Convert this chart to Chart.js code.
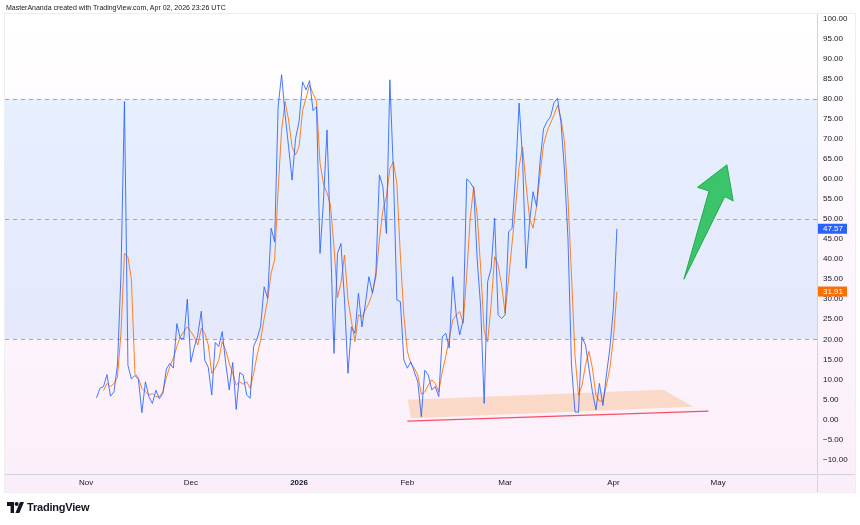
<!DOCTYPE html>
<html>
<head>
<meta charset="utf-8">
<script src="https://cdn.jsdelivr.net/npm/chart.js@4.4.1/dist/chart.umd.min.js"></script>
<style>
  html, body { margin: 0; padding: 0; background: #fff; }
  #wrap { position: relative; width: 860px; height: 525px; overflow: hidden; }
  #chart { position: absolute; left: 0; top: 0; }
  #title {
    position: absolute; left: 6px; top: 4px;
    font: 7px "Liberation Sans", Arial, sans-serif; color: #131722; white-space: nowrap;
  }
  #logo { position: absolute; left: 7px; top: 501px; display: flex; align-items: center; }
  #logo span {
    font: bold 11px "Liberation Sans", Arial, sans-serif; color: #131722; margin-left: 3px; letter-spacing: -0.2px;
  }
</style>
</head>
<body>
<div id="wrap">
  <canvas id="chart" width="860" height="525"></canvas>
  <div id="title">MasterAnanda created with TradingView.com, Apr 02, 2026 23:26 UTC</div>
  <div id="logo">
    <svg width="17" height="12" viewBox="0 0 17 12">
      <path d="M0 1 H7 V12 H3.6 V5 H0 Z" fill="#131722"/>
      <circle cx="9.6" cy="3" r="2" fill="#131722"/>
      <path d="M13 1 H17 L12.4 12 H8.4 Z" fill="#131722"/>
    </svg>
    <span>TradingView</span>
  </div>
</div>
<script>
// Days are counted from Nov 1, 2025; first bar is Nov 4, 2025
const startDay = 3;

// Stoch RSI %K (blue)
const kValues = [
    5.4, 7.8, 8.2, 11.2, 5.8, 6.9, 13.6, 36, 79.3, 13.5,
    10.1, 11, 10, 1.7, 9.4, 5.7, 4, 7.3, 5.2, 6.5,
    12.6, 14, 12.8, 23.9, 20.2, 20.2, 30, 14.3, 18, 21,
    27, 14.8, 13, 6.1, 19.2, 18.2, 21.9, 14, 7.4, 14.2,
    2.5, 11.7, 11.1, 6.1, 5.3, 18.3, 20.2, 23.3, 33.1, 30.2,
    47.7, 44.3, 78, 86, 76, 68, 59.7, 70.1, 74.3, 84.2,
    82.2, 84.5, 77, 78, 41.4, 54.7, 72.2, 45, 16.5, 41.4,
    43.9, 30, 11.5, 23.1, 21.5, 31.5, 23.1, 29, 35.6, 31.5,
    36.5, 61, 58.1, 46.4, 84.7, 62, 29.8, 29.4, 14.8, 12.8,
    14.4, 11.9, 9.4, 0.7, 12.3, 11.1, 7.4, 8.2, 5.7, 20.6,
    21.5, 17.8, 35.6, 26.1, 21.1, 24.8, 60, 59.1, 57.7, 40,
    28, 4, 34.4, 37.7, 50.2, 26.1, 25.2, 26.1, 46.8, 47.7,
    61, 78.9, 65, 37.7, 49.3, 56.8, 53.1, 64.3, 72.5, 74.3,
    75.5, 79, 80.1, 74, 62, 45, 13.6, 1.9, 1.8, 20.6,
    18.6, 12.8, 6.9, 2.4, 9, 3.5, 11.1, 17.8, 27.7, 47.57
];

// Stoch RSI %D (orange)
const dValues = [
    null, null, 7.2, 9.0, 8.2, 9.0, 10.5, 21.5, 41.4, 40.6,
    34.8, 11.5, 10.3, 7.8, 6.9, 6.1, 6.5, 5.7, 5.7, 6.9,
    10.5, 13.2, 15.3, 18.2, 20.6, 22, 23.1, 21.9, 20.6, 18.6,
    22.7, 21.5, 18.6, 11.5, 12.8, 14.8, 19.4, 17.3, 14, 11.5,
    8.6, 9.4, 8.8, 9.4, 7.8, 11.5, 16.1, 19.8, 25.2, 29.8,
    36.5, 39.8, 57.2, 72.2, 79.3, 74.7, 68, 66, 68, 77,
    80.1, 83.4, 81.3, 79.3, 64, 58.7, 56.5, 53.5, 43, 30.4,
    34, 41, 30, 24.5, 19.4, 26.1, 25.6, 27.3, 29, 31.5,
    35.6, 44.8, 52.2, 55.5, 62.5, 64.3, 58.9, 41, 26, 17,
    14, 12.8, 11.1, 6.3, 6.9, 8.6, 9.9, 9, 6.9, 11.9,
    15.7, 20.2, 24.8, 26.1, 26.9, 24, 36, 50.2, 58.1, 51,
    37.7, 22, 19.4, 28.6, 40.6, 38.5, 33.5, 26.5, 35, 44,
    53, 63, 68, 58.5, 50.2, 47.7, 53.1, 61, 68.5, 71.8,
    73.9, 75.9, 78.4, 75.1, 69.3, 55.2, 36, 16, 6, 8.5,
    13.5, 17, 12.8, 6, 4.6, 4.6, 8.5, 12.8, 20.2, 31.91
];

const monthDays = [0, 30, 61, 92, 120, 151, 181];
const monthLabels = ['Nov', 'Dec', '2026', 'Feb', 'Mar', 'Apr', 'May'];
const yTicks = [-10, -5, 0, 5, 10, 15, 20, 25, 30, 35, 40, 45, 50, 55, 60, 65, 70, 75, 80, 85, 90, 95, 100];
const levels = [80, 50, 20];

// Drawings on the chart, in (day, value) units
const peachShape = [[92.1, 4.9], [165.3, 7.4], [173.9, 3.2], [93.1, 0.3]];
const redLine = [[92, -0.4], [178.2, 2.1]];
const arrowShape = [[171.2, 35.0], [178.4, 57.0], [175.1, 57.9], [183.5, 63.5], [185.3, 54.5], [182.9, 55.6]];

const kColor = '#2962FF';
const dColor = '#FF6D00';

const toPoints = arr => arr.map((v, i) => ({ x: startDay + i, y: v }));

const paneLeft = 5, paneTop = 14, paneRight = 855, paneBottom = 492;

const drawingsPlugin = {
    id: 'drawings',
    beforeDraw(chart) {
        const ctx = chart.ctx;
        const g = ctx.createLinearGradient(0, paneTop, 0, paneBottom);
        g.addColorStop(0, '#ffffff');
        g.addColorStop(1, '#fbeefa');
        ctx.save();
        ctx.fillStyle = g;
        ctx.fillRect(paneLeft, paneTop, paneRight - paneLeft, paneBottom - paneTop);
        ctx.restore();
    },
    beforeDatasetsDraw(chart) {
        const { ctx, chartArea: a, scales: { x, y } } = chart;
        ctx.save();
        // band between 20 and 80
        const yTop = y.getPixelForValue(levels[0]);
        const yBot = y.getPixelForValue(levels[2]);
        ctx.fillStyle = 'rgba(33, 150, 243, 0.11)';
        ctx.fillRect(a.left, yTop, a.right - a.left, yBot - yTop);
        // dashed levels
        ctx.strokeStyle = '#a3a6af';
        ctx.lineWidth = 1;
        ctx.setLineDash([4, 4]);
        levels.forEach(l => {
            const py = Math.round(y.getPixelForValue(l)) + 0.5;
            ctx.beginPath();
            ctx.moveTo(a.left, py);
            ctx.lineTo(a.right, py);
            ctx.stroke();
        });
        ctx.setLineDash([]);
        // peach support zone
        ctx.fillStyle = 'rgba(247, 130, 20, 0.22)';
        ctx.beginPath();
        peachShape.forEach(([d, v], i) => {
            const px = x.getPixelForValue(d), py = y.getPixelForValue(v);
            if (i === 0) ctx.moveTo(px, py); else ctx.lineTo(px, py);
        });
        ctx.closePath();
        ctx.fill();
        ctx.restore();
    },
    afterDatasetsDraw(chart) {
        const { ctx, scales: { x, y } } = chart;
        ctx.save();
        // red support line
        ctx.strokeStyle = 'rgba(242, 54, 69, 0.85)';
        ctx.lineWidth = 1.3;
        ctx.beginPath();
        ctx.moveTo(x.getPixelForValue(redLine[0][0]), y.getPixelForValue(redLine[0][1]));
        ctx.lineTo(x.getPixelForValue(redLine[1][0]), y.getPixelForValue(redLine[1][1]));
        ctx.stroke();
        // green arrow
        ctx.fillStyle = '#3cc46b';
        ctx.strokeStyle = '#22a94f';
        ctx.lineWidth = 1;
        ctx.lineJoin = 'round';
        ctx.beginPath();
        arrowShape.forEach(([d, v], i) => {
            const px = x.getPixelForValue(d), py = y.getPixelForValue(v);
            if (i === 0) ctx.moveTo(px, py); else ctx.lineTo(px, py);
        });
        ctx.closePath();
        ctx.fill();
        ctx.stroke();
        ctx.restore();
    },
    afterDraw(chart) {
        const { ctx, chartArea: a, scales: { y } } = chart;
        ctx.save();
        // pane separators
        ctx.strokeStyle = '#d1d4dc';
        ctx.lineWidth = 1;
        ctx.beginPath();
        ctx.moveTo(a.right + 0.5, paneTop);
        ctx.lineTo(a.right + 0.5, paneBottom);
        ctx.moveTo(paneLeft, a.bottom + 0.5);
        ctx.lineTo(paneRight, a.bottom + 0.5);
        ctx.stroke();
        ctx.strokeStyle = '#eceef2';
        ctx.strokeRect(paneLeft - 0.5, paneTop - 0.5, paneRight - paneLeft + 1, paneBottom - paneTop + 1);
        // last value labels
        const boxes = [
            [kValues[kValues.length - 1], kColor],
            [dValues[dValues.length - 1], dColor]
        ];
        ctx.font = '8px "Liberation Sans", Arial, sans-serif';
        ctx.textBaseline = 'middle';
        boxes.forEach(([v, c]) => {
            const py = y.getPixelForValue(v);
            ctx.fillStyle = c;
            ctx.fillRect(a.right + 1, py - 5, 29, 10);
            ctx.fillStyle = '#ffffff';
            ctx.fillText(v.toFixed(2), a.right + 6, py + 0.5);
        });
        ctx.restore();
    }
};

new Chart(document.getElementById('chart'), {
    type: 'line',
    data: {
        datasets: [
            {
                label: '%K',
                data: toPoints(kValues),
                borderColor: 'rgba(41, 98, 255, 0.85)',
                borderWidth: 1,
                pointRadius: 0,
                tension: 0
            },
            {
                label: '%D',
                data: toPoints(dValues),
                borderColor: 'rgba(255, 109, 0, 0.85)',
                borderWidth: 1,
                pointRadius: 0,
                tension: 0
            }
        ]
    },
    options: {
        responsive: false,
        animation: false,
        layout: { padding: { left: paneLeft, top: paneTop, right: 0, bottom: 525 - paneBottom } },
        plugins: {
            legend: { display: false },
            tooltip: { enabled: false }
        },
        scales: {
            x: {
                type: 'linear',
                min: -23.2,
                max: 209.3,
                grid: { display: false, drawTicks: false },
                border: { display: false },
                afterBuildTicks: axis => { axis.ticks = monthDays.map(v => ({ value: v })); },
                afterFit: axis => { axis.height = 18; },
                ticks: {
                    autoSkip: false,
                    maxRotation: 0,
                    padding: 4,
                    color: '#131722',
                    font: c => ({
                        size: 8,
                        family: '"Liberation Sans", Arial, sans-serif',
                        weight: /^\d{4}$/.test(monthLabels[c.index] || '') ? 'bold' : 'normal'
                    }),
                    callback: (v, i) => monthLabels[i]
                }
            },
            y: {
                position: 'right',
                min: -13.59,
                max: 101.12,
                grid: { display: false, drawTicks: false },
                border: { display: false },
                afterBuildTicks: axis => { axis.ticks = yTicks.map(v => ({ value: v })); },
                afterFit: axis => { axis.width = 43; },
                ticks: {
                    padding: 6,
                    color: '#131722',
                    font: { size: 8, family: '"Liberation Sans", Arial, sans-serif' },
                    callback: v => (v < 0 ? '\u2212' + Math.abs(v).toFixed(2) : v.toFixed(2))
                }
            }
        }
    },
    plugins: [drawingsPlugin]
});
</script>
</body>
</html>
